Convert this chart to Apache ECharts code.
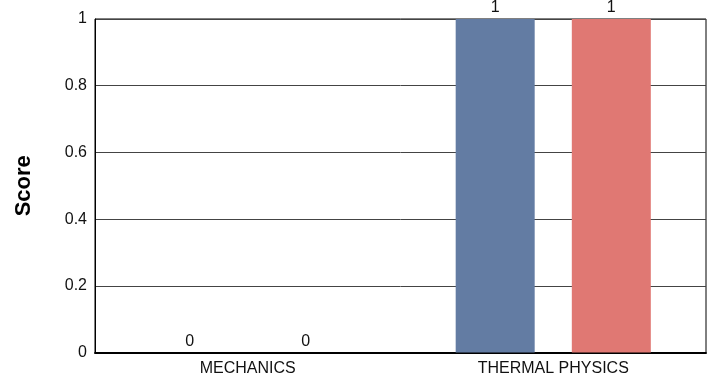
<!DOCTYPE html>
<html>
<head>
<meta charset="utf-8">
<script src="https://cdn.jsdelivr.net/npm/echarts@6/dist/echarts.min.js"></script>
<style>html,body{margin:0;padding:0;background:#fff;}#c{width:714px;height:380px;}</style>
</head>
<body>
<div id="c"></div>
<script>
var categories = ['MECHANICS', 'THERMAL PHYSICS'];
var seriesA = [0, 1];
var seriesB = [0, 1];
var yTicks = [0, 0.2, 0.4, 0.6, 0.8, 1];

var chart = echarts.init(document.getElementById('c'));
var font = 'Liberation Sans, Arial, sans-serif';
var lbl = {show: true, position: 'top', color: '#111', fontSize: 16, fontFamily: font, distance: 3};
chart.setOption({
  animation: false,
  grid: {left: 95, right: 8, top: 19, bottom: 27.5, show: true, borderColor: '#000', borderWidth: 1},
  xAxis: {
    type: 'category', data: categories,
    axisLine: {lineStyle: {color: '#000', width: 2}},
    axisTick: {show: false},
    axisLabel: {color: '#111', fontSize: 16, fontFamily: font, margin: 8}
  },
  yAxis: {
    type: 'value', min: 0, max: 1, interval: 0.2,
    name: 'Score', nameLocation: 'middle', nameGap: 60,
    nameTextStyle: {fontSize: 22, fontWeight: 'bold', color: '#000', fontFamily: font},
    axisLine: {show: true, lineStyle: {color: '#000', width: 1}},
    axisTick: {show: false},
    splitLine: {lineStyle: {color: '#444', width: 1}},
    axisLabel: {color: '#111', fontSize: 16, fontFamily: font, margin: 8,
      formatter: function(v){ return String(+v.toFixed(2)); }}
  },
  series: [
    {type: 'bar', data: seriesA, barWidth: 79, barGap: '47%', itemStyle: {color: '#637ca3'}, label: lbl},
    {type: 'bar', data: seriesB, barWidth: 79, itemStyle: {color: '#e07873'}, label: lbl}
  ]
});
</script>
</body>
</html>
